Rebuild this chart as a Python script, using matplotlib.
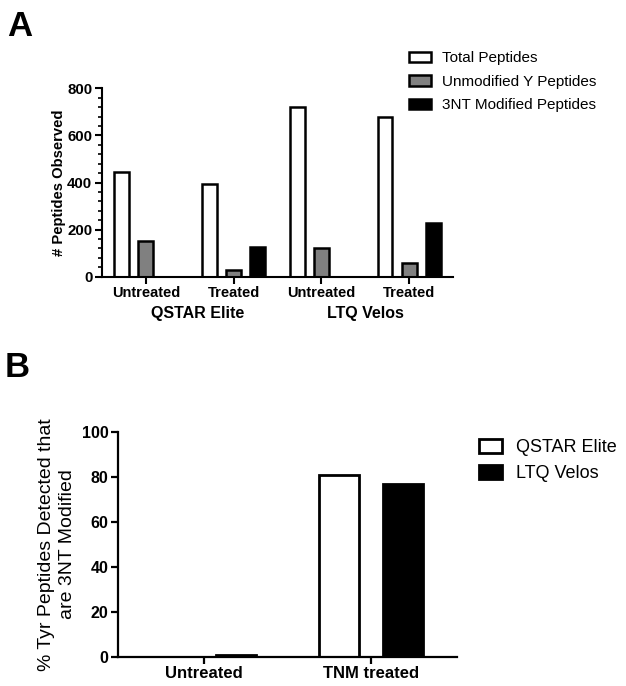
import matplotlib
matplotlib.use("Agg")
import matplotlib.pyplot as plt
from matplotlib.ticker import AutoMinorLocator

plt.rcParams["font.family"] = ["Liberation Sans", "DejaVu Sans"]

# Panel A data
conditions = ["Untreated", "Treated", "Untreated", "Treated"]
instruments = ["QSTAR Elite", "LTQ Velos"]
total_peptides = [446, 394, 719, 679]
unmodified_y = [153, 28, 120, 57]
modified_3nt = [0, 125, 0, 226]
series_a = ["Total Peptides", "Unmodified Y Peptides", "3NT Modified Peptides"]

# Panel B data
groups_b = ["Untreated", "TNM treated"]
pct_qstar = [0, 81]
pct_ltq = [0.6, 77]

fig = plt.figure(figsize=(6.26, 6.86), dpi=100)

# --- Panel A ---
axA = fig.add_axes([0.163, 0.5966, 0.5607, 0.2747])
x = list(range(len(conditions)))
step = 0.275
w = 0.17
colors = ["white", "#808080", "black"]
bars = []
for k, (vals, c) in enumerate(zip([total_peptides, unmodified_y, modified_3nt], colors)):
    b = axA.bar([i + (k - 1) * step for i in x], vals, width=w, color=c,
                edgecolor="black", linewidth=1.8, label=series_a[k])
    bars.append(b)

axA.set_xlim(-0.5, 3.5)
axA.set_ylim(0, 800)
axA.set_yticks([0, 200, 400, 600, 800])
axA.yaxis.set_minor_locator(AutoMinorLocator(5))
axA.set_xticks(x, conditions, fontsize=10.5, fontweight="bold")
for lab in axA.get_yticklabels():
    lab.set_fontsize(10.8)
    lab.set_fontweight("bold")
axA.set_ylabel("# Peptides Observed", fontsize=10.6, fontweight="bold", labelpad=1)
for s in ["top", "right"]:
    axA.spines[s].set_visible(False)
for s in ["left", "bottom"]:
    axA.spines[s].set_linewidth(1.5)
axA.tick_params(axis="both", which="major", width=1.5, length=5, pad=2)
axA.tick_params(axis="y", which="minor", width=1.2, length=3)
axA.text(0.585, -0.155, instruments[0], transform=axA.get_xaxis_transform(),
         ha="center", va="top", fontsize=11.5, fontweight="bold")
axA.text(2.5, -0.155, instruments[1], transform=axA.get_xaxis_transform(),
         ha="center", va="top", fontsize=11.5, fontweight="bold")

legA = axA.legend(handles=bars, loc="upper left", bbox_to_anchor=(0.653, 0.925),
                  bbox_transform=fig.transFigure, frameon=False, fontsize=11,
                  handlelength=1.45, handleheight=0.7, handletextpad=0.7,
                  labelspacing=0.62, borderpad=0, borderaxespad=0)

# --- Panel B ---
axB = fig.add_axes([0.189, 0.0427, 0.5406, 0.3271])
xb = list(range(len(groups_b)))
off = 0.19
wb = 0.24
b1 = axB.bar([i - off for i in xb], pct_qstar, width=wb, color="white",
             edgecolor="black", linewidth=2.0, label=instruments[0])
b2 = axB.bar([i + off for i in xb], pct_ltq, width=wb, color="black",
             edgecolor="black", linewidth=2.0, label=instruments[1])
axB.set_xlim(-0.515, 1.515)
axB.set_ylim(0, 100)
axB.set_yticks([0, 20, 40, 60, 80, 100])
axB.set_xticks(xb, groups_b, fontsize=12, fontweight="bold")
for lab in axB.get_yticklabels():
    lab.set_fontsize(11.5)
    lab.set_fontweight("bold")
axB.set_ylabel("% Tyr Peptides Detected that\nare 3NT Modified", fontsize=14,
               labelpad=4, linespacing=1.35)
for s in ["top", "right"]:
    axB.spines[s].set_visible(False)
for s in ["left", "bottom"]:
    axB.spines[s].set_linewidth(1.6)
axB.tick_params(axis="both", which="major", width=1.6, length=5, pad=2)

axB.legend(handles=[b1, b2], loc="upper left", bbox_to_anchor=(0.765, 0.36),
           bbox_transform=fig.transFigure, frameon=False, fontsize=13,
           handlelength=1.28, handleheight=0.8, handletextpad=0.8,
           labelspacing=0.5, borderpad=0, borderaxespad=0)

fig.text(0.012, 0.985, "A", fontsize=25, fontweight="bold", va="top", ha="left")
fig.text(0.008, 0.488, "B", fontsize=25, fontweight="bold", va="top", ha="left")

fig.savefig("out.png", dpi=100)
